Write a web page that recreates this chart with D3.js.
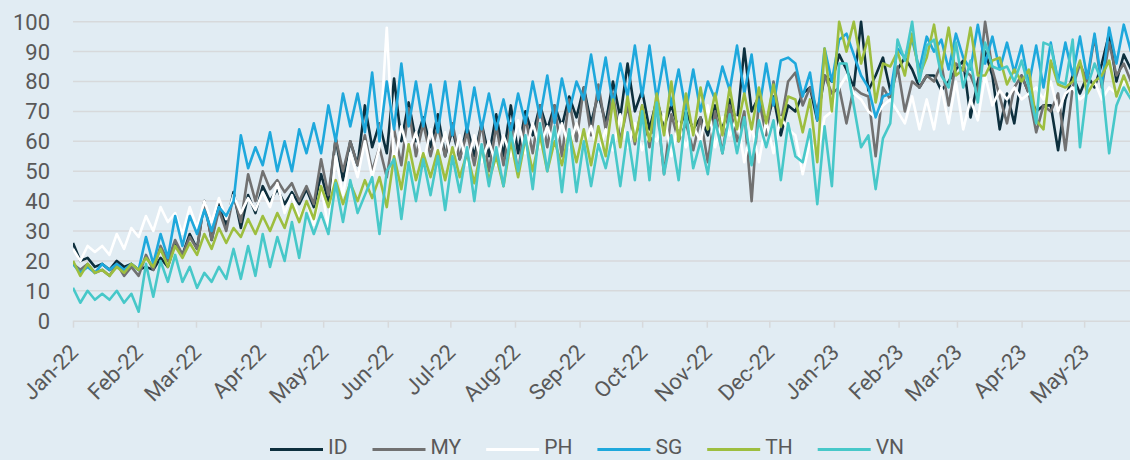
<!DOCTYPE html>
<html>
<head>
<meta charset="utf-8">
<script src="https://cdn.jsdelivr.net/npm/d3@7"></script>
<style>
  body { margin: 0; background: #e1ecf3; }
  svg text { font-family: Roboto, "Liberation Sans", sans-serif; fill: #595959; }
</style>
</head>
<body>
<svg id="chart" width="1130" height="460"></svg>
<script>
// Daily index values, sampled twice a week (every 3.5 days from 1 Jan 2022)
const monthLabels = ["Jan-22","Feb-22","Mar-22","Apr-22","May-22","Jun-22","Jul-22","Aug-22",
  "Sep-22","Oct-22","Nov-22","Dec-22","Jan-23","Feb-23","Mar-23","Apr-23","May-23"];
const yTicks = [0, 10, 20, 30, 40, 50, 60, 70, 80, 90, 100];
const seriesNames = ["ID", "MY", "PH", "SG", "TH", "VN"];

const idValues = [26,20, 21,18, 19,17, 20,18, 19,17, 18,17, 21,18, 26,22, 29,24, 40,27,
  39,32, 43,31, 42,36, 45,40, 44,39, 43,39, 44,38, 49,40, 61,47, 60,52,
  72,58, 66,56, 81,60, 73,60, 68,58, 69,55, 64,54, 65,55, 66,55, 69,55,
  72,56, 70,62, 72,64, 72,65, 75,68, 78,66, 76,66, 80,68, 86,70, 77,64,
  74,65, 72,64, 70,64, 68,62, 72,64, 74,66, 91,70, 75,65, 75,62,
  72,70, 76,78, 67,82, 80,89, 84,78, 100,77, 82,88, 77,84, 88,84, 78,82,
  82,77, 80,84, 87,68, 80,90, 82,64, 76,66, 82,76, 70,72, 72,57, 74,82,
  76,82, 78,86, 96,80, 89,84];
const myValues = [19,17, 19,16, 17,15, 19,15, 18,15, 22,17, 25,20, 27,22, 28,24, 40,27,
  37,30, 42,33, 49,40, 50,44, 47,43, 46,40, 45,39, 54,42, 61,50, 60,52,
  62,50, 58,48, 64,52, 71,55, 66,55, 65,55, 66,54, 63,52, 66,50, 65,52,
  66,49, 68,56, 72,58, 72,55, 74,60, 78,62, 79,64, 76,60, 72,59, 72,58,
  72,49, 69,60, 66,57, 68,53, 70,56, 72,60, 70,40, 74,62, 80,66,
  80,83, 72,78, 70,82, 76,78, 66,78, 76,75, 55,78, 74,85, 70,80, 78,82,
  80,86, 72,86, 84,82, 76,100, 84,75, 66,78, 82,76, 63,72, 70,76, 57,78,
  86,80, 95,78, 93,82, 86,80];
const phValues = [24,20, 25,23, 25,22, 29,24, 31,28, 35,30, 38,33, 36,29, 38,31, 40,33,
  41,34, 42,36, 41,37, 43,38, 46,36, 42,34, 40,32, 45,31, 55,42, 56,48,
  60,48, 58,98, 52,65, 56,63, 52,64, 54,63, 53,62, 52,62, 53,60, 52,62,
  55,67, 56,66, 58,65, 58,66, 58,66, 58,65, 56,64, 57,69, 58,66, 57,63,
  60,69, 55,66, 58,65, 60,72, 58,68, 62,68, 53,65, 53,67, 56,68,
  64,62, 49,60, 56,68, 70,78, 82,76, 74,70, 68,72, 74,70, 66,75, 64,74,
  64,78, 66,80, 64,74, 67,82, 72,77, 74,78, 74,76, 78,74, 80,70, 76,78,
  74,76, 80,74, 78,76, 80,78];
const sgValues = [19,16, 18,16, 19,17, 19,17, 19,17, 28,19, 29,21, 35,25, 35,29, 37,30,
  38,35, 40,62, 51,58, 52,63, 50,60, 50,64, 56,66, 56,72, 60,76, 65,76,
  63,83, 60,80, 64,86, 65,80, 65,79, 63,80, 62,80, 63,78, 64,76, 64,74,
  63,76, 66,80, 68,82, 66,81, 70,80, 74,89, 74,88, 72,86, 75,92, 75,92,
  74,88, 72,84, 70,84, 70,80, 74,85, 77,92, 76,89, 70,86, 72,87,
  88,86, 75,83, 67,91, 80,94, 96,89, 82,78, 68,75, 76,91, 88,94, 84,95,
  90,94, 84,96, 88,84, 99,86, 95,84, 93,83, 92,79, 92,78, 93,80, 93,82,
  95,81, 96,79, 98,86, 99,90];
const thValues = [20,15, 19,16, 17,15, 18,16, 19,17, 21,18, 24,18, 25,21, 26,22, 29,24,
  31,26, 31,28, 34,29, 35,30, 36,31, 39,33, 40,34, 45,38, 47,39, 46,40,
  47,41, 48,38, 55,44, 59,47, 56,48, 57,47, 58,48, 56,46, 58,47, 55,45,
  60,48, 61,50, 62,50, 60,52, 63,53, 64,52, 65,55, 74,58, 75,60, 72,60,
  76,62, 80,60, 76,62, 78,64, 76,62, 78,64, 76,64, 78,66, 79,65,
  75,74, 63,74, 53,91, 70,100, 90,100, 86,95, 73,86, 85,90, 82,96, 82,88,
  99,84, 98,82, 84,98, 82,82, 87,88, 79,84, 80,84, 67,64, 87,79, 78,80,
  87,76, 80,82, 87,75, 82,76];
const vnValues = [11,6, 10,7, 9,7, 10,6, 9,3, 19,8, 20,13, 22,13, 18,11, 16,13,
  18,14, 24,14, 25,15, 29,18, 28,20, 33,21, 36,29, 36,29, 46,33, 47,36,
  42,48, 29,50, 54,34, 53,40, 54,42, 55,37, 55,43, 58,40, 59,45, 58,45,
  63,50, 62,44, 66,50, 65,43, 64,43, 60,45, 59,51, 62,45, 63,47, 70,47,
  73,49, 62,47, 70,51, 60,49, 67,56, 69,56, 68,52, 67,58, 67,47,
  66,55, 53,64, 39,65, 45,86, 86,72, 58,62, 44,61, 66,94, 87,100, 80,92,
  94,82, 78,93, 78,87, 73,93, 85,84, 85,80, 87,78, 66,93, 92,80, 79,94,
  58,78, 86,80, 56,72, 78,74];

const seriesValues = [idValues, myValues, phValues, sgValues, thValues, vnValues];
const seriesColors = ["#0d2f3d", "#717171", "#ffffff", "#1ea8dc", "#9dbe3f", "#47c8c9"];

const svg = d3.select("#chart");
const plotLeft = 73, plotRight = 1130, plotTop = 21.7, plotBottom = 320.7;

const start = new Date(2022, 0, 1);
const x = d3.scaleTime().domain([start, new Date(2023, 4, 23)]).range([plotLeft, plotRight]);
const y = d3.scaleLinear().domain([0, 100]).range([plotBottom, plotTop]);

// gridlines
svg.append("g").selectAll("line")
  .data(yTicks.filter(d => d > 0))
  .enter().append("line")
  .attr("x1", plotLeft).attr("x2", plotRight)
  .attr("y1", d => y(d)).attr("y2", d => y(d))
  .attr("stroke", "#d7d9db").attr("stroke-width", 1.5);

// y labels
svg.append("g").selectAll("text")
  .data(yTicks)
  .enter().append("text")
  .attr("x", 50).attr("y", d => y(d)).attr("dy", "0.36em")
  .attr("text-anchor", "end")
  .style("font-size", "22px")
  .text(d => d);

// x axis
const monthDates = monthLabels.map((m, i) => d3.timeMonth.offset(start, i));
const xAxis = svg.append("g")
  .attr("transform", `translate(0,${plotBottom})`)
  .call(d3.axisBottom(x).tickValues(monthDates).tickSize(7).tickSizeOuter(0)
    .tickFormat((d, i) => monthLabels[i]));
xAxis.select(".domain").attr("stroke", "#d7d9db").attr("stroke-width", 1.5);
xAxis.selectAll(".tick line").attr("stroke", "#d7d9db").attr("stroke-width", 1.5);
xAxis.selectAll(".tick text")
  .attr("x", 0).attr("y", 0).attr("dy", 0)
  .attr("text-anchor", "end")
  .attr("transform", "translate(6,33) rotate(-45)")
  .style("font-size", "22px")
  .attr("fill", "#595959");

// lines
svg.append("clipPath").attr("id", "plotClip")
  .append("rect").attr("x", plotLeft).attr("y", 0)
  .attr("width", plotRight - plotLeft).attr("height", plotBottom + 2);

const line = d3.line()
  .x((d, i) => x(d3.timeHour.offset(start, i * 84)))
  .y(d => y(d));

svg.append("g").attr("clip-path", "url(#plotClip)")
  .selectAll("path")
  .data(seriesValues)
  .enter().append("path")
  .attr("d", line)
  .attr("fill", "none")
  .attr("stroke", (d, i) => seriesColors[i])
  .attr("stroke-width", 2.6)
  .attr("stroke-linejoin", "round");

// legend
const legend = svg.append("g").attr("transform", "translate(270,449.5)");
let lx = 0;
seriesNames.forEach((name, i) => {
  const item = legend.append("g").attr("transform", `translate(${lx},0)`);
  item.append("line").attr("x1", 0).attr("x2", 53).attr("y1", 0).attr("y2", 0)
    .attr("stroke", seriesColors[i]).attr("stroke-width", 3);
  const t = item.append("text").attr("x", 58).attr("y", 4.5)
    .style("font-size", "21px").text(name);
  lx += 58 + t.node().getComputedTextLength() + 25;
});
</script>
</body>
</html>
